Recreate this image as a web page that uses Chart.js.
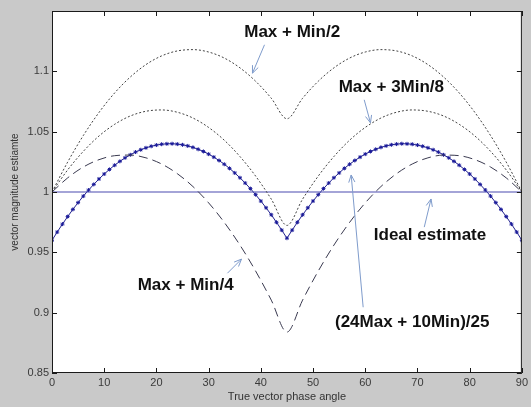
<!DOCTYPE html>
<html>
<head>
<meta charset="utf-8">
<script src="https://cdn.jsdelivr.net/npm/chart.js@4/dist/chart.umd.min.js"></script>
<style>
  html, body { margin: 0; padding: 0; background: #c9c9c9; }
  canvas { display: block; }
</style>
</head>
<body>
<canvas id="estimateChart" width="531" height="407"></canvas>
<script>
// phase angles (degrees)
const anglesFine = [0,1,2,3,4,5,6,7,8,9,10,11,12,13,14,15,16,17,18,19,20,21,22,23,24,25,26,27,28,29,30,
  31,32,33,34,35,36,37,38,39,40,41,42,43,44,45,46,47,48,49,50,51,52,53,54,55,56,57,58,59,60,
  61,62,63,64,65,66,67,68,69,70,71,72,73,74,75,76,77,78,79,80,81,82,83,84,85,86,87,88,89,90];
const anglesCoarse = [0,3,6,9,12,15,18,21,24,27,30,33,36,39,42,45,48,51,54,57,60,63,66,69,72,75,78,81,84,87,90];
const anglesIdeal = [0, 90];

// estimates
const maxHalfMin = [1.0000,1.0248,1.0468,1.0659,1.0821,1.0953,1.1056,1.1128,1.1169,1.1180,1.1160,1.1110,1.1029,1.0918,1.0777,1.0607,
  1.0777,1.0918,1.1029,1.1110,1.1160,1.1180,1.1169,1.1128,1.1056,1.0953,1.0821,1.0659,1.0468,1.0248,1.0000];
const maxThreeEighthMin = [1.0000,1.0183,1.0337,1.0464,1.0561,1.0630,1.0669,1.0680,1.0661,1.0613,1.0535,1.0429,1.0294,1.0132,0.9941,0.9723,
  0.9941,1.0132,1.0294,1.0429,1.0535,1.0613,1.0661,1.0680,1.0669,1.0630,1.0561,1.0464,1.0337,1.0183,1.0000];
const maxQuarterMin = [1.0000,1.0117,1.0207,1.0268,1.0301,1.0306,1.0283,1.0232,1.0152,1.0045,0.9910,0.9748,0.9560,0.9345,0.9104,0.8839,
  0.9104,0.9345,0.9560,0.9748,0.9910,1.0045,1.0152,1.0232,1.0283,1.0306,1.0301,1.0268,1.0207,1.0117,1.0000];
const weightedEstimate = [0.9600,0.9668,0.9734,0.9796,0.9856,0.9912,0.9966,1.0016,1.0063,1.0108,
  1.0149,1.0187,1.0222,1.0254,1.0283,1.0308,1.0331,1.0350,1.0366,1.0379,
  1.0389,1.0396,1.0399,1.0400,1.0397,1.0391,1.0382,1.0370,1.0354,1.0336,
  1.0314,1.0289,1.0261,1.0230,1.0196,1.0158,1.0118,1.0074,1.0028,0.9978,
  0.9925,0.9869,0.9811,0.9749,0.9684,0.9617,
  0.9684,0.9749,0.9811,0.9869,0.9925,0.9978,1.0028,1.0074,1.0118,1.0158,
  1.0196,1.0230,1.0261,1.0289,1.0314,1.0336,1.0354,1.0370,1.0382,1.0391,
  1.0397,1.0400,1.0399,1.0396,1.0389,1.0379,1.0366,1.0350,1.0331,1.0308,
  1.0283,1.0254,1.0222,1.0187,1.0149,1.0108,1.0063,1.0016,0.9966,0.9912,
  0.9856,0.9796,0.9734,0.9668,0.9600];
const idealEstimate = [1, 1];

const xTicks = [0,10,20,30,40,50,60,70,80,90];
const yTicks = [0.85,0.9,0.95,1,1.05,1.1,1.15];

// text callouts, in data units
const callouts = [
  { text: 'Max + Min/2', x: 46.0, y: 1.1320, from: [40.7, 1.1220], to: [38.4, 1.0985] },
  { text: 'Max + 3Min/8', x: 65.0, y: 1.0864, from: [59.8, 1.0764], to: [61.0, 1.0573] },
  { text: 'Max + Min/4', x: 25.6, y: 0.9228, from: [33.6, 0.9327], to: [36.3, 0.9444] },
  { text: 'Ideal estimate', x: 72.4, y: 0.9643, from: [71.3, 0.9709], to: [72.6, 0.9942] },
  { text: '(24Max + 10Min)/25', x: 69.0, y: 0.8920, from: [59.6, 0.9045], to: [57.3, 1.0141] }
];

function toPoints(xs, ys) {
  return xs.map((x, i) => ({ x: x, y: ys[i] }));
}

const matlabFrame = {
  id: 'matlabFrame',
  beforeDraw(chart) {
    const { ctx, chartArea: a } = chart;
    ctx.save();
    ctx.fillStyle = '#c9c9c9';
    ctx.fillRect(0, 0, chart.width, chart.height);
    ctx.fillStyle = '#ffffff';
    ctx.fillRect(a.left, a.top, a.right - a.left, a.bottom - a.top);
    ctx.restore();
  },
  afterDatasetsDraw(chart) {
    const { ctx, chartArea: a, scales: { x, y } } = chart;
    ctx.save();

    // callouts
    ctx.strokeStyle = '#7f9ccc';
    ctx.lineWidth = 1;
    callouts.forEach(c => {
      const x1 = x.getPixelForValue(c.from[0]), y1 = y.getPixelForValue(c.from[1]);
      const x2 = x.getPixelForValue(c.to[0]), y2 = y.getPixelForValue(c.to[1]);
      const ang = Math.atan2(y2 - y1, x2 - x1);
      ctx.beginPath();
      ctx.moveTo(x1, y1);
      ctx.lineTo(x2, y2);
      ctx.moveTo(x2 - 8 * Math.cos(ang - 0.4), y2 - 8 * Math.sin(ang - 0.4));
      ctx.lineTo(x2, y2);
      ctx.lineTo(x2 - 8 * Math.cos(ang + 0.4), y2 - 8 * Math.sin(ang + 0.4));
      ctx.stroke();
    });
    ctx.fillStyle = '#111111';
    ctx.font = 'bold 17px "Liberation Sans", Arial, sans-serif';
    ctx.textAlign = 'center';
    ctx.textBaseline = 'middle';
    callouts.forEach(c => {
      ctx.fillText(c.text, x.getPixelForValue(c.x), y.getPixelForValue(c.y));
    });

    // box with inward ticks
    ctx.strokeStyle = '#1a1a1a';
    ctx.lineWidth = 1;
    ctx.strokeRect(a.left + 0.5, a.top + 0.5, a.right - a.left - 1, a.bottom - a.top - 1);
    ctx.beginPath();
    xTicks.forEach(v => {
      const px = Math.round(x.getPixelForValue(v)) + 0.5;
      ctx.moveTo(px, a.bottom); ctx.lineTo(px, a.bottom - 5);
      ctx.moveTo(px, a.top); ctx.lineTo(px, a.top + 5);
    });
    yTicks.forEach(v => {
      const py = Math.round(y.getPixelForValue(v)) + 0.5;
      ctx.moveTo(a.left, py); ctx.lineTo(a.left + 5, py);
      ctx.moveTo(a.right, py); ctx.lineTo(a.right - 5, py);
    });
    ctx.stroke();
    ctx.restore();
  }
};

const tickFont = { family: '"Liberation Sans", Arial, sans-serif', size: 11 };

new Chart(document.getElementById('estimateChart').getContext('2d'), {
  type: 'line',
  data: {
    datasets: [
      {
        label: 'Max + Min/2',
        data: toPoints(anglesCoarse, maxHalfMin),
        borderColor: '#444444', borderWidth: 1, borderDash: [2, 2],
        pointRadius: 0, cubicInterpolationMode: 'monotone'
      },
      {
        label: 'Max + 3Min/8',
        data: toPoints(anglesCoarse, maxThreeEighthMin),
        borderColor: '#444444', borderWidth: 1, borderDash: [2, 2],
        pointRadius: 0, cubicInterpolationMode: 'monotone'
      },
      {
        label: 'Max + Min/4',
        data: toPoints(anglesCoarse, maxQuarterMin),
        borderColor: '#3a3a50', borderWidth: 1, borderDash: [9, 5],
        pointRadius: 0, cubicInterpolationMode: 'monotone'
      },
      {
        label: 'Ideal estimate',
        data: toPoints(anglesIdeal, idealEstimate),
        borderColor: '#4b4bb0', borderWidth: 1.2,
        pointRadius: 0
      },
      {
        label: '(24Max + 10Min)/25',
        data: toPoints(anglesFine, weightedEstimate),
        borderColor: '#22228f', borderWidth: 1,
        pointStyle: 'star', pointRadius: 2, pointBorderWidth: 1,
        pointBorderColor: '#1a1a99', pointBackgroundColor: '#1a1a99'
      }
    ]
  },
  options: {
    responsive: false,
    animation: false,
    layout: { padding: { top: 11, right: 8, left: 0, bottom: 0 } },
    plugins: {
      legend: { display: false },
      tooltip: { enabled: false }
    },
    scales: {
      x: {
        type: 'linear', min: 0, max: 90,
        afterFit: s => { s.height = 34; },
        afterBuildTicks: s => { s.ticks = xTicks.map(v => ({ value: v })); },
        grid: { display: false, drawTicks: false },
        border: { display: false },
        ticks: { font: tickFont, color: '#3a3a3a', padding: 3, maxRotation: 0 },
        title: {
          display: true, text: 'True vector phase angle',
          font: tickFont, color: '#333333', padding: { top: 0, bottom: 3 }
        }
      },
      y: {
        min: 0.85, max: 1.15,
        afterFit: s => { s.width = 52; },
        afterBuildTicks: s => { s.ticks = yTicks.map(v => ({ value: v })); },
        grid: { display: false, drawTicks: false },
        border: { display: false },
        ticks: {
          font: tickFont, color: '#3a3a3a', padding: 3,
          callback: v => Math.abs(v - 1.15) < 1e-6 ? '' : String(+v.toFixed(2))
        },
        title: {
          display: true, text: 'vector magnitude estiamte',
          font: { family: '"Liberation Sans", Arial, sans-serif', size: 10 },
          color: '#333333', padding: { top: 9, bottom: 0 }
        }
      }
    }
  },
  plugins: [matlabFrame]
});
</script>
</body>
</html>
